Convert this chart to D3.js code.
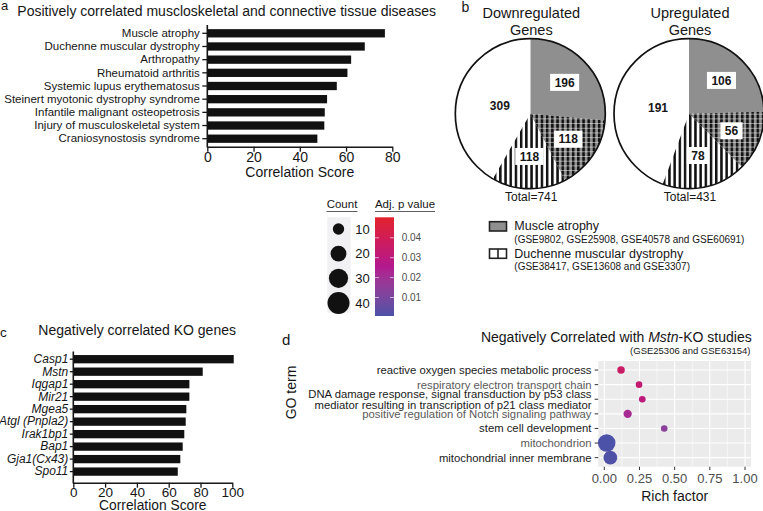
<!DOCTYPE html>
<html><head><meta charset="utf-8">
<script src="https://cdn.jsdelivr.net/npm/d3@7"></script>
<style>body{margin:0;background:#fff}svg{display:block;font-family:"Liberation Sans",Arial,Helvetica,sans-serif}</style>
</head><body>
<svg id="chart" width="763" height="511"></svg>
<script>
// ---------------- data ----------------
const diseaseNames = ["Muscle atrophy","Duchenne muscular dystrophy","Arthropathy","Rheumatoid arthritis","Systemic lupus erythematosus","Steinert myotonic dystrophy syndrome","Infantile malignant osteopetrosis","Injury of musculoskeletal system","Craniosynostosis syndrome"];
const diseaseScores = [76.8, 68.1, 62.2, 60.6, 56.0, 51.8, 50.8, 50.6, 47.6];
const scoreTicksA = [0, 20, 40, 60, 80];

const koGenes = ["Casp1","Mstn","Iqgap1","Mir21","Mgea5","Atgl (Pnpla2)","Irak1bp1","Bap1","Gja1(Cx43)","Spo11"];
const koScores = [100.9, 81.4, 73.0, 73.0, 71.1, 70.7, 69.8, 68.8, 67.3, 65.7];
const scoreTicksC = [0, 20, 40, 60, 80, 100];

const pieTitles = [["Downregulated","Genes"],["Upregulated","Genes"]];
const overlapCategories = ["Muscle atrophy only","Muscle atrophy and Duchenne muscular dystrophy","Duchenne muscular dystrophy only","Neither"];
const downregulatedCounts = [196, 118, 118, 309];
const upregulatedCounts = [106, 56, 78, 191];
const legendNames = ["Muscle atrophy","Duchenne muscular dystrophy"];
const legendStudies = ["(GSE9802, GSE25908, GSE40578 and GSE60691)","(GSE38417, GSE13608 and GSE3307)"];

const goTermLines = [
  ["reactive oxygen species metabolic process"],
  ["respiratory electron transport chain"],
  ["DNA damage response, signal transduction by p53 class","mediator resulting in transcription of p21 class mediator"],
  ["positive regulation of Notch signaling pathway"],
  ["stem cell development"],
  ["mitochondrion"],
  ["mitochondrial inner membrane"]
];
const goRichFactor = [0.119, 0.247, 0.270, 0.166, 0.426, 0.017, 0.043];
const goCount = [4, 3, 3, 5, 3, 25, 15];
const goAdjP = [0.036, 0.033, 0.030, 0.022, 0.014, 0.0008, 0.0015];
const richTicks = [0, 0.25, 0.5, 0.75, 1];
const richMinorTicks = [0.125, 0.375, 0.625, 0.875];
const countLegendValues = [10, 20, 30, 40];
const pLegendTicks = [0.01, 0.02, 0.03, 0.04];
const pRange = [0.0007, 0.0503];

// ---------------- setup ----------------
const svg = d3.select("#chart");
const INK = "#161616";
const defs = svg.append("defs");

function txt(g, x, y, s, size, opts = {}) {
  const t = g.append("text").attr("x", x).attr("y", y).text(s)
    .attr("font-size", size).attr("fill", opts.fill || INK);
  if (opts.anchor) t.attr("text-anchor", opts.anchor);
  if (opts.weight) t.attr("font-weight", opts.weight);
  if (opts.style) t.attr("font-style", opts.style);
  return t;
}

// ---------------- horizontal bar panels ----------------
function barPanel(names, values, ticks, cfg) {
  const g = svg.append("g");
  const x = d3.scaleLinear().domain([0, ticks[ticks.length - 1]]).range([cfg.x0, cfg.x1]);
  const y = d3.scaleBand().domain(names).range([cfg.y0, cfg.y1])
    .paddingInner(cfg.pi).paddingOuter(cfg.po);
  g.selectAll("rect.bar").data(names).join("rect").attr("class", "bar")
    .attr("x", x(0)).attr("y", d => y(d))
    .attr("width", (d, i) => x(values[i]) - x(0)).attr("height", y.bandwidth())
    .attr("fill", "#111");
  const xa = g.append("g").attr("transform", `translate(0,${cfg.axisY})`)
    .call(d3.axisBottom(x).tickValues(ticks).tickSize(5).tickSizeOuter(0).tickPadding(cfg.tickPad));
  xa.attr("font-family", null);
  xa.select(".domain").attr("stroke", INK).attr("stroke-width", 1.6);
  xa.selectAll(".tick line").attr("stroke", INK).attr("stroke-width", 1.3);
  xa.selectAll(".tick text").attr("font-size", cfg.xfont).attr("fill", INK);
  const ya = g.append("g").attr("transform", `translate(${cfg.x0},0)`)
    .call(d3.axisLeft(y).tickSize(cfg.ytick).tickSizeOuter(0).tickPadding(cfg.ypad));
  ya.attr("font-family", null);
  ya.select(".domain").remove();
  ya.selectAll(".tick line").attr("stroke", INK).attr("stroke-width", 1.3);
  ya.selectAll(".tick text").attr("font-size", cfg.yfont).attr("fill", INK)
    .attr("font-style", cfg.italic ? "italic" : null);
  g.append("line").attr("x1", x(0)).attr("x2", x(0)).attr("y1", cfg.axisTop).attr("y2", cfg.axisY + 0.8)
    .attr("stroke", INK).attr("stroke-width", 1.6);
  txt(g, (cfg.x0 + cfg.x1) / 2, cfg.titleY, "Correlation Score", cfg.titleFont, { anchor: "middle" });
  return g;
}

// panel a
txt(svg, 1, 9.5, "a", 13);
txt(svg, 17.3, 15.5, "Positively correlated muscloskeletal and connective tissue diseases", 14);
barPanel(diseaseNames, diseaseScores, scoreTicksA, {
  x0: 207.3, x1: 392.3, y0: 25.2, y1: 146.8, pi: 0.37, po: 0.3,
  axisY: 146.7, axisTop: 25, tickPad: 0.5, ytick: 5, ypad: 2.5, yfont: 11.5, xfont: 14,
  titleY: 176.5, titleFont: 14
});

// panel c
txt(svg, 0, 336.5, "c", 13.5);
txt(svg, 38.3, 335, "Negatively correlated KO genes", 14);
barPanel(koGenes, koScores, scoreTicksC, {
  x0: 73.3, x1: 232.3, y0: 351.3, y1: 479.5, pi: 0.335, po: 0.3,
  axisY: 482.7, axisTop: 351.5, tickPad: 0, ytick: 3.5, ypad: 1.5, yfont: 12, italic: true, xfont: 13.5,
  titleY: 509.5, titleFont: 13.8
});

// ---------------- panel b: pies ----------------
txt(svg, 461.5, 11.7, "b", 14);
const stripe = defs.append("pattern").attr("id", "vstripe").attr("patternUnits", "userSpaceOnUse")
  .attr("width", 5.2).attr("height", 6);
stripe.append("rect").attr("x", 0).attr("y", 0).attr("width", 2.5).attr("height", 6).attr("fill", "#111");
const hline = defs.append("pattern").attr("id", "hline").attr("patternUnits", "userSpaceOnUse")
  .attr("width", 6).attr("height", 4.7);
hline.append("rect").attr("x", 0).attr("y", 0).attr("width", 6).attr("height", 0.6)
  .attr("fill", "#fff").attr("opacity", 0.8);

const GRAY = "#8f8f8f";
const segFill = [GRAY, GRAY, "#fff", "#fff"];
const segStripes = [false, true, true, false];
const segHlines = [false, true, false, false];
const labelRadiusFrac = [0.62, 0.61, 0.57, 0.42];
const labelBoxed = [true, true, true, false];
const R = 75;
const pieCenters = [[530.3, 113.7], [689, 113.7]];
const pieData = [downregulatedCounts, upregulatedCounts];
const pieGen = d3.pie().sort(null).value(d => d);
const arcGen = d3.arc().innerRadius(0).outerRadius(R);

pieData.forEach((counts, pi) => {
  const [cx, cy] = pieCenters[pi];
  const g = svg.append("g").attr("transform", `translate(${cx},${cy})`);
  const arcs = pieGen(counts);
  g.selectAll("path.base").data(arcs).join("path").attr("class", "base")
    .attr("d", arcGen).attr("fill", (d, i) => segFill[i]);
  g.selectAll("path.str").data(arcs.filter((d, i) => segStripes[i])).join("path").attr("class", "str")
    .attr("d", arcGen).attr("fill", "url(#vstripe)");
  g.selectAll("path.hl").data(arcs.filter((d, i) => segHlines[i])).join("path").attr("class", "hl")
    .attr("d", arcGen).attr("fill", "url(#hline)");
  g.append("circle").attr("r", R).attr("fill", "none").attr("stroke", "#111").attr("stroke-width", 1.7);
  arcs.forEach((a, i) => {
    const rr = R * labelRadiusFrac[i];
    const [lx, ly] = d3.arc().innerRadius(rr).outerRadius(rr).centroid(a);
    const lg = g.append("g");
    const t = txt(lg, lx, ly + 4.3, String(counts[i]), 12, { anchor: "middle", weight: "bold" });
    if (labelBoxed[i]) {
      const w = t.node().getComputedTextLength() + 9;
      lg.insert("rect", "text").attr("x", lx - w / 2).attr("y", ly - 8.5).attr("width", w).attr("height", 17).attr("fill", "#fff");
    }
  });
  const total = d3.sum(counts);
  txt(svg, cx + 1, 18.3, pieTitles[pi][0], 14.5, { anchor: "middle" });
  txt(svg, cx + 1, 35, pieTitles[pi][1], 14.5, { anchor: "middle" });
  txt(svg, cx + 1, 200.7, "Total=" + total, 12, { anchor: "middle" });
});

// pie legend
const lgB = svg.append("g");
const boxY = [221.7, 249];
legendNames.forEach((nm, i) => {
  lgB.append("rect").attr("x", 489.5).attr("y", boxY[i]).attr("width", 17).attr("height", 9.3)
    .attr("fill", i === 0 ? GRAY : "#fff").attr("stroke", "#222").attr("stroke-width", 1.6);
  if (i === 1) lgB.append("line").attr("x1", 498).attr("x2", 498).attr("y1", boxY[i]).attr("y2", boxY[i] + 9.3)
    .attr("stroke", "#222").attr("stroke-width", 1.6);
  txt(lgB, 514.3, boxY[i] + 8.5, nm, 12.5);
  txt(lgB, 514.3, boxY[i] + 20.8, legendStudies[i], 10);
});

// ---------------- size / colour scales ----------------
const rScale = d3.scalePow().exponent(0.5).domain([0, 40]).range([0.4, 11]);
const pColor = d3.scaleLinear()
  .domain([pRange[0], (pRange[0] + pRange[1]) / 2, pRange[1]])
  .range(["#4a52a8", "#b3198e", "#e2232b"]).interpolate(d3.interpolateLab);

// count legend
const lgC = svg.append("g");
txt(lgC, 342, 208.3, "Count", 11.5, { anchor: "middle" });
lgC.append("line").attr("x1", 326.5).attr("x2", 357.5).attr("y1", 211.5).attr("y2", 211.5).attr("stroke", "#333").attr("stroke-width", 0.8);
lgC.append("rect").attr("x", 327.3).attr("y", 217.3).attr("width", 23.4).attr("height", 95.4).attr("fill", "#f1f1f3");
const countY = d3.scalePoint().domain(countLegendValues).range([229, 303]);
countLegendValues.forEach(v => {
  lgC.append("circle").attr("cx", 338.5).attr("cy", countY(v)).attr("r", rScale(v)).attr("fill", "#111");
  txt(lgC, 355.3, countY(v) + 4.6, String(v), 13);
});

// p value colour bar
txt(lgC, 405, 208.3, "Adj. p value", 11.5, { anchor: "middle" });
lgC.append("line").attr("x1", 375).attr("x2", 435).attr("y1", 211.5).attr("y2", 211.5).attr("stroke", "#333").attr("stroke-width", 0.8);
const pY = d3.scaleLinear().domain(pRange).range([316, 217.3]);
const grad = defs.append("linearGradient").attr("id", "pgrad").attr("x1", 0).attr("x2", 0).attr("y1", 1).attr("y2", 0);
d3.range(0, 1.0001, 0.05).forEach(f => {
  grad.append("stop").attr("offset", f).attr("stop-color", pColor(pRange[0] + f * (pRange[1] - pRange[0])));
});
lgC.append("rect").attr("x", 375).attr("y", 217.3).attr("width", 19).attr("height", 98.7).attr("fill", "url(#pgrad)");
pLegendTicks.forEach(v => {
  lgC.append("line").attr("x1", 375).attr("x2", 379).attr("y1", pY(v)).attr("y2", pY(v)).attr("stroke", "#fff").attr("stroke-opacity", 0.6);
  lgC.append("line").attr("x1", 390).attr("x2", 394).attr("y1", pY(v)).attr("y2", pY(v)).attr("stroke", "#fff").attr("stroke-opacity", 0.6);
  txt(lgC, 401.7, pY(v) + 3.6, d3.format(".2f")(v), 10, { fill: "#4d4d4d" });
});

// ---------------- panel d: GO dot plot ----------------
const gD = svg.append("g");
txt(gD, 282, 345, "d", 15);
const titleD = txt(gD, 751.7, 342, "", 14, { anchor: "end" });
titleD.append("tspan").text("Negatively Correlated with ");
titleD.append("tspan").attr("font-style", "italic").text("Mstn");
titleD.append("tspan").text("-KO studies");
txt(gD, 750.5, 354, "(GSE25306 and GSE63154)", 9.5, { anchor: "end" });

const xD = d3.scaleLinear().domain([0, 1]).range([604.3, 745]);
const goIdx = goTermLines.map((d, i) => i);
const yD = d3.scalePoint().domain(goIdx).range([361, 466.7]).padding(0.62);
const pl = xD(-0.043), pr = xD(1.043);
gD.append("rect").attr("x", pl).attr("y", 361).attr("width", pr - pl).attr("height", 105.7).attr("fill", "#ebebeb");
richMinorTicks.forEach(v => gD.append("line").attr("x1", xD(v)).attr("x2", xD(v)).attr("y1", 361).attr("y2", 466.7).attr("stroke", "#fff").attr("stroke-width", 0.55));
richTicks.forEach(v => gD.append("line").attr("x1", xD(v)).attr("x2", xD(v)).attr("y1", 361).attr("y2", 466.7).attr("stroke", "#fff").attr("stroke-width", 1.1));
goIdx.forEach(i => gD.append("line").attr("x1", pl).attr("x2", pr).attr("y1", yD(i)).attr("y2", yD(i)).attr("stroke", "#fff").attr("stroke-width", 1.1));

gD.selectAll("circle.pt").data(goIdx).join("circle").attr("class", "pt")
  .attr("cx", i => xD(goRichFactor[i])).attr("cy", i => yD(i))
  .attr("r", i => rScale(goCount[i])).attr("fill", i => pColor(goAdjP[i]));

// y ticks and labels
goIdx.forEach(i => {
  gD.append("line").attr("x1", pl - 3.6).attr("x2", pl).attr("y1", yD(i)).attr("y2", yD(i)).attr("stroke", "#333").attr("stroke-width", 1);
  const lines = goTermLines[i];
  const lh = 11;
  lines.forEach((ln, k) => {
    const yy = yD(i) + (k - (lines.length - 1) / 2) * lh + 3.9;
    txt(gD, 591.5, yy, ln, 11.3, { anchor: "end", fill: i % 2 === 0 ? "#1a1a1a" : "#5a5a5a" });
  });
});
// x ticks and labels
richTicks.forEach(v => {
  gD.append("line").attr("x1", xD(v)).attr("x2", xD(v)).attr("y1", 466.7).attr("y2", 470).attr("stroke", "#333").attr("stroke-width", 1);
  txt(gD, xD(v), 483, d3.format(".2f")(v), 13, { anchor: "middle", fill: "#4d4d4d" });
});
txt(gD, (pl + pr) / 2, 500.7, "Rich factor", 14, { anchor: "middle" });
txt(gD, 0, 0, "GO term", 14, { anchor: "middle" }).attr("transform", "translate(295.5,392.5) rotate(-90)");
</script>
</body></html>
